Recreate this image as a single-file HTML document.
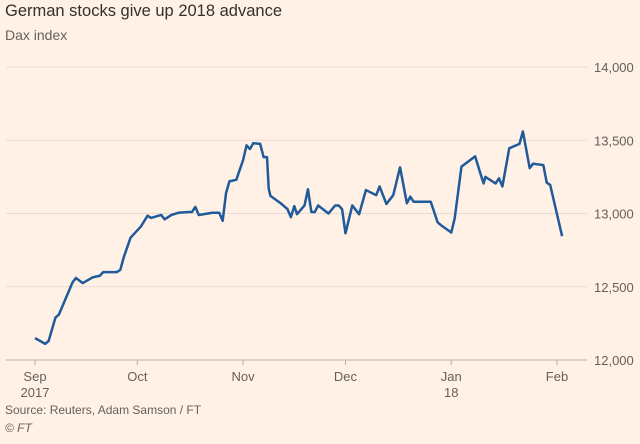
<!DOCTYPE html>
<html><head><meta charset="utf-8"><style>
body{margin:0;background:#fff1e5;width:640px;height:444px;overflow:hidden;font-family:"Liberation Sans",sans-serif}
#title{position:absolute;left:5px;top:2px;font-size:16.5px;color:#33302e}
#sub{position:absolute;left:5px;top:27px;font-size:14px;color:#66605c}
#src{position:absolute;left:5px;top:403px;font-size:12px;color:#66605c}
#ft{position:absolute;left:5px;top:421px;font-size:12px;color:#66605c;font-style:italic}
svg{position:absolute;left:0;top:0}
</style></head><body>
<div id="title">German stocks give up 2018 advance</div>
<div id="sub">Dax index</div>
<div id="src">Source: Reuters, Adam Samson / FT</div>
<div id="ft">© FT</div>
<svg id="c" width="640" height="444"></svg>
<script>
const yTicks=[12000,12500,13000,13500,14000];
const yTickLabels=["12,000","12,500","13,000","13,500","14,000"];
const xTickDays=[0,30,61,91,122,153];
const xTickLabels=["Sep","Oct","Nov","Dec","Jan","Feb"];
const xTickSub=["2017","","","","18",""];
const days=[0,3,4,6,7,11,12,14,17,19,20,24,25,26,28,31,33,34,37,38,40,42,45,46,47,48,52,54,55,56,57,59,61,62,63,64,66,67,68,68.5,69,72,74,75,76,76.8,79,80,81,82,83,86,88,89,90,91,93,95,97,100,101,103,105,107,109,110,111,116,118,119,122,123,125,129,131,131.5,132,135,136,137,139,142,143,145,146,149,150,151,154.5];
const values=[12150,12110,12130,12290,12310,12530,12560,12525,12565,12575,12600,12600,12615,12700,12835,12910,12985,12970,12990,12960,12990,13005,13010,13010,13045,12990,13005,13005,12950,13140,13220,13230,13365,13465,13440,13480,13475,13385,13385,13170,13120,13070,13030,12975,13050,12995,13055,13165,13010,13010,13055,13000,13055,13055,13030,12865,13055,12995,13160,13125,13185,13065,13125,13315,13070,13115,13080,13080,12940,12920,12870,12965,13320,13390,13240,13205,13250,13205,13240,13185,13445,13475,13560,13310,13340,13330,13210,13195,12845];
const svg=document.getElementById('c');const NS='http://www.w3.org/2000/svg';
const X=d=>35+d*(557-35)/153;
const Y=v=>360-(v-12000)*(293/2000);
function mk(t,a){const e=document.createElementNS(NS,t);for(const k in a)e.setAttribute(k,a[k]);svg.appendChild(e);return e;}
yTicks.forEach((v,i)=>{
 const l=mk('line',{x1:6,x2:587,y1:Y(v),y2:Y(v),stroke:i==0?'#b8b0a8':'#e9ddd2','stroke-width':1});
 
 
 const t=mk('text',{x:594,y:Y(v)+5,'font-size':13,fill:'#66605c','font-family':'Liberation Sans, sans-serif'});
 t.textContent=yTickLabels[i];
 
 
});
xTickDays.forEach((d,i)=>{
 const l=mk('line',{x1:X(d),x2:X(d),y1:360,y2:365,stroke:'#b8b0a8'});
 
 
 const t=mk('text',{x:X(d),y:381,'font-size':13,fill:'#66605c','text-anchor':'middle','font-family':'Liberation Sans, sans-serif'});
 t.textContent=xTickLabels[i];
 
 
 if(xTickSub[i]){const s=mk('text',{x:X(d),y:397,'font-size':13,fill:'#66605c','text-anchor':'middle','font-family':'Liberation Sans, sans-serif'});
 s.textContent=xTickSub[i];
 
 }
});
const p=mk('polyline',{points:days.map((d,i)=>X(d)+','+Y(values[i])).join(' '),fill:'none',stroke:'#1f5a9a','stroke-width':2.5,'stroke-linejoin':'round'});


</script>
</body></html>
